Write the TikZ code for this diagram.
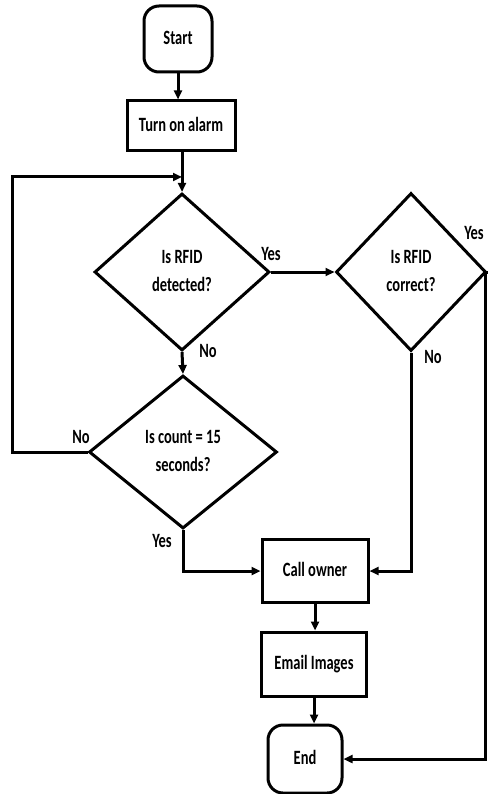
\documentclass[tikz,border=0pt]{standalone}
\usepackage{fontspec}
\usepackage{graphicx}
\setmainfont{Carlito}
\usetikzlibrary{shapes.geometric,arrows.meta}
\newcommand{\tx}[1]{\scalebox{1}[1.4]{\begin{tabular}{@{}c@{}}#1\end{tabular}}}
\begin{document}
\begin{tikzpicture}[x=1pt,y=-1pt,
  every node/.style={font=\bfseries\fontsize{14.5}{20}\selectfont},
  term/.style={draw,line width=3pt,rounded corners=15pt,minimum width=#1,minimum height=66pt,inner sep=0pt},
  proc/.style={draw,line width=3pt,minimum width=106pt,inner sep=0pt},
  dec/.style={draw,diamond,line width=3pt,inner sep=0pt,align=center},
  lbl/.style={inner sep=0pt},
  conn/.style={line width=3pt,-{Triangle[length=9pt,width=8pt]}},
  plain/.style={line width=3pt}]
\useasboundingbox (0,0) rectangle (487,794);
\node[term=68pt] (start) at (178,39) {\tx{Start}};
\node[proc,minimum width=108pt,minimum height=50pt] (alarm) at (181,126) {\tx{Turn on alarm}};
\node[dec,minimum width=175pt,minimum height=157pt] (d1) at (182,272) {\tx{Is RFID\\detected?}};
\node[dec,minimum width=150pt,minimum height=158pt] (d2) at (411,272) {\tx{Is RFID\\correct?}};
\node[dec,minimum width=188pt,minimum height=153pt] (d3) at (183,452) {\tx{Is count = 15\\seconds?}};
\node[proc,minimum height=63pt] (call) at (315,571) {\raisebox{4pt}{\tx{Call owner}}};
\node[proc,minimum width=105pt,minimum height=64pt] (email) at (314,664) {\raisebox{7pt}{\tx{Email Images}}};
\node[term=74pt,minimum height=68pt] (end) at (305,759) {\tx{End}};

\node[lbl] (y1) at (271,255) {\tx{Yes}};
\node[lbl] (y2) at (474,234) {\tx{Yes}};
\node[lbl] (n1) at (208,352) {\tx{No}};
\node[lbl] (n2) at (433,358) {\tx{No}};
\node[lbl] (n3) at (81,438) {\tx{No}};
\node[lbl] (y3) at (162,542) {\tx{Yes}};

\coordinate (lj) at (182,177);
\coordinate (lx) at (12,177);
\coordinate (rc) at (485,759);

\draw[conn] (start.south) -- (start.south |- alarm.north);
\draw[plain] (alarm.south -| d1.north) -- (lj);
\draw[conn] (lj) -- (d1.north);
\draw[conn] (d3.west) -- (d3.west -| lx) -- (lx) -- (lj);
\draw[conn] (d1.east) -- (d2.west);
\draw[conn] (d1.south) -- (d3.north);
\draw[conn] (d2.south) |- (call.east);
\draw[conn] (d3.south) |- (call.west);
\draw[conn] (call.south) -- (call.south |- email.north);
\draw[conn] (email.south) -- (email.south |- end.north);
\draw[conn] (d2.east) -- (d2.east -| rc) -- (rc) -- (end.east);
\end{tikzpicture}
\end{document}
